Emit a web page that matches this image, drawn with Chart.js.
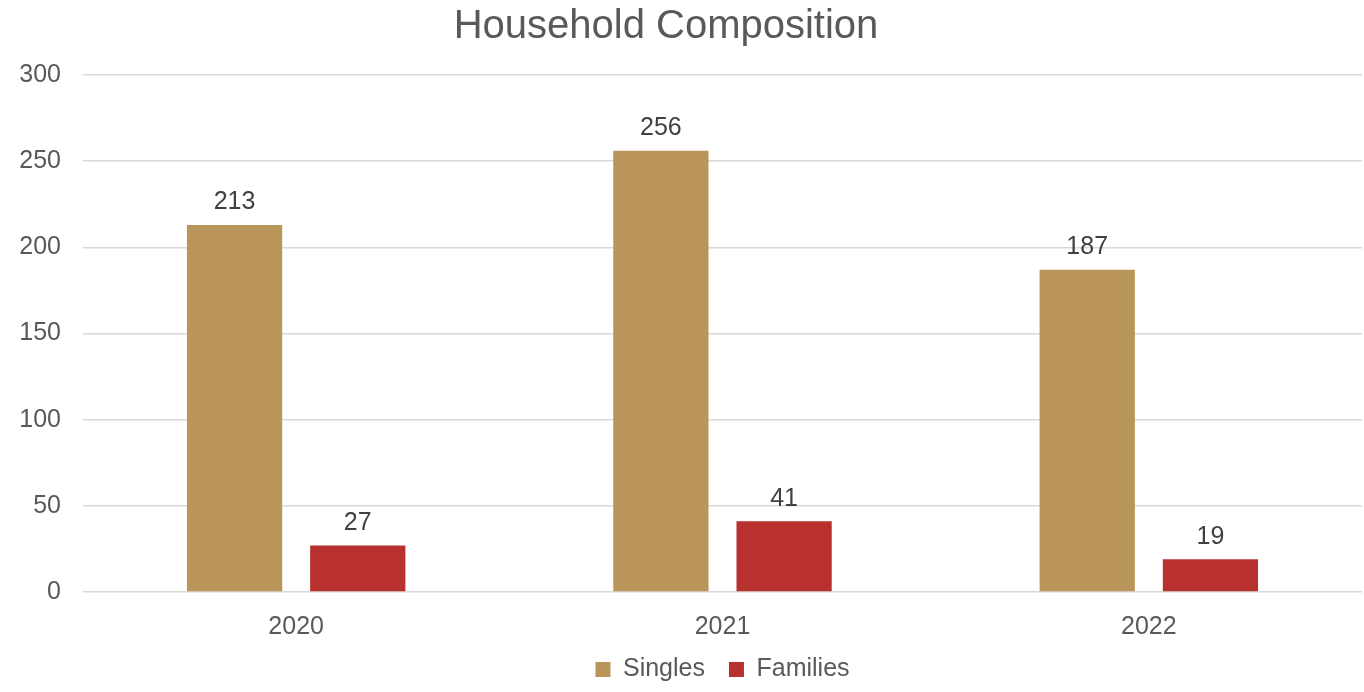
<!DOCTYPE html>
<html>
<head>
<meta charset="utf-8">
<script src="https://cdn.jsdelivr.net/npm/chart.js@4"></script>
<style>
  html, body { margin: 0; padding: 0; background: #fff; }
  #wrap { width: 1364px; height: 692px; }
</style>
</head>
<body>
<div id="wrap"><canvas id="householdChart"></canvas></div>
<script>
// Household counts per year
const years = ["2020", "2021", "2022"];
const singles = [213, 256, 187];
const families = [27, 41, 19];
const yTicks = [0, 50, 100, 150, 200, 250, 300];
const chartTitle = "Household Composition";

const textColor = "#595959";
const font = "'Liberation Sans', Arial, sans-serif";

// heading, drawn in the reserved top padding
const heading = {
  id: "heading",
  afterDraw(chart) {
    const c = chart.ctx;
    c.save();
    c.font = "40px " + font;
    c.fillStyle = textColor;
    c.textAlign = "center";
    c.textBaseline = "middle";
    c.fillText(chartTitle, 666, 27);
    c.restore();
  },
};

// draws the value above each bar
const valueLabels = {
  id: "valueLabels",
  afterDatasetsDraw(chart) {
    const c = chart.ctx;
    c.save();
    c.font = "25px " + font;
    c.fillStyle = "#404040";
    c.textAlign = "center";
    c.textBaseline = "bottom";
    chart.data.datasets.forEach((ds, i) => {
      chart.getDatasetMeta(i).data.forEach((bar, j) => {
        c.fillText(ds.data[j], bar.x, bar.y - 10);
      });
    });
    c.restore();
  },
};

// the x axis box is shortened below, so widen its label clip again
const unclipYears = {
  id: "unclipYears",
  beforeDraw(chart) {
    chart.scales.x.bottom = chart.height;
  },
};

const ctx = document.getElementById("householdChart").getContext("2d");
new Chart(ctx, {
  type: "bar",
  data: {
    labels: years,
    datasets: [
      {
        label: "Singles",
        data: singles,
        backgroundColor: "#B9955A",
        categoryPercentage: 0.578,
        barPercentage: 0.773,
      },
      {
        label: "Families",
        data: families,
        backgroundColor: "#B8312F",
        categoryPercentage: 0.578,
        barPercentage: 0.773,
      },
    ],
  },
  options: {
    responsive: true,
    maintainAspectRatio: false,
    animation: false,
    layout: { padding: { left: 18, right: 2, top: 75, bottom: 0 } },
    scales: {
      x: {
        afterFit: (axis) => {
          // let the year labels sit close to the legend row
          axis.height -= 21;
        },
        grid: { display: false },
        border: { display: false },
        ticks: { color: textColor, font: { size: 25, family: font }, padding: 12 },
      },
      y: {
        min: 0,
        max: 300,
        afterBuildTicks: (axis) => {
          axis.ticks = yTicks.map((v) => ({ value: v }));
        },
        afterFit: (axis) => {
          axis.width = 65;
        },
        grid: { color: "#d9d9d9", lineWidth: 1.5, drawTicks: false },
        border: { display: false },
        ticks: { color: textColor, font: { size: 25, family: font }, padding: 22 },
      },
    },
    plugins: {
      title: { display: false },
      legend: {
        position: "bottom",
        fullSize: false,
        labels: {
          color: textColor,
          font: { size: 25, family: font },
          boxWidth: 15,
          boxHeight: 15,
          padding: 24,
        },
      },
      tooltip: { enabled: false },
    },
  },
  plugins: [valueLabels, heading, unclipYears],
});
</script>
</body>
</html>
